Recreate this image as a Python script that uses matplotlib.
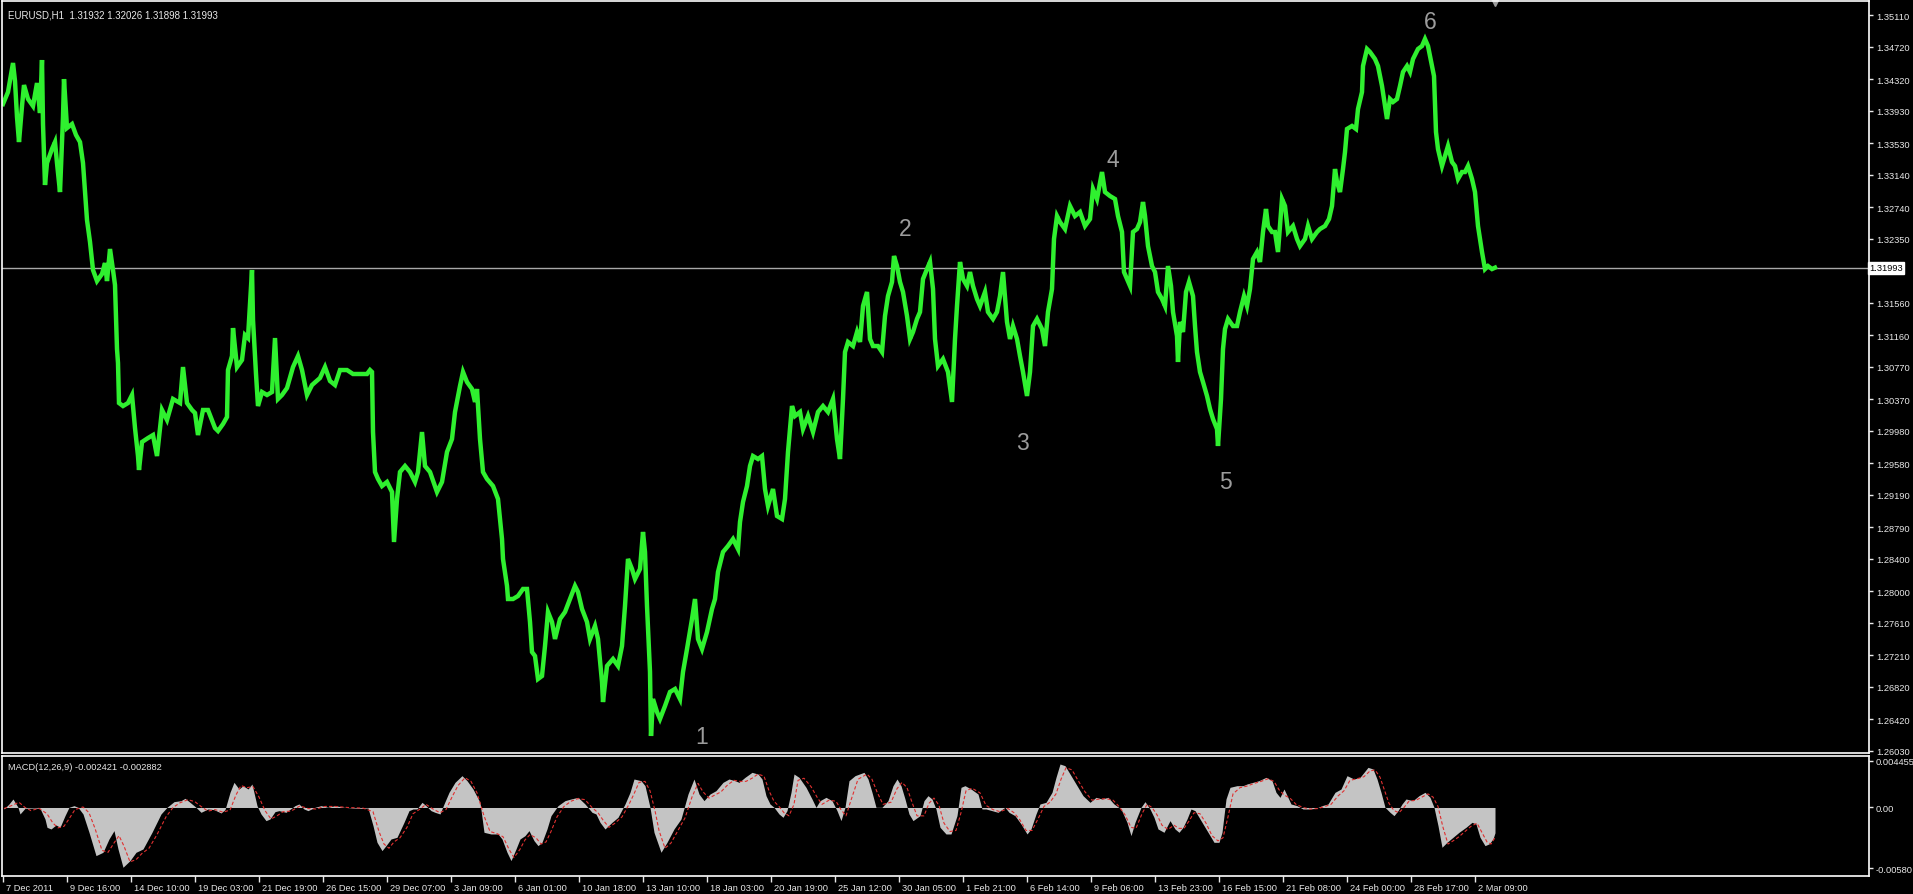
import matplotlib
matplotlib.use('Agg')
import matplotlib.pyplot as plt
import matplotlib.transforms as mtransforms
import numpy as np

plt.rcParams['font.family'] = ['Liberation Sans', 'DejaVu Sans']

# EURUSD H1, price path (bar index, price)
price_path = [
    (0, 1.34012), (5, 1.34160), (10, 1.34518), (12, 1.34296), (14, 1.33852), (16, 1.33543), (19, 1.33987),
    (21, 1.34246), (25, 1.34074), (30, 1.33987), (34, 1.34271), (37, 1.33901), (39, 1.34555), (40, 1.33765),
    (42, 1.33013), (44, 1.33284), (49, 1.33457), (52, 1.33543), (54, 1.33284), (57, 1.32926), (60, 1.33852),
    (61, 1.34320), (64, 1.33716), (69, 1.33765), (73, 1.33630), (77, 1.33543), (80, 1.33284), (82, 1.32926),
    (84, 1.32581), (87, 1.32310), (90, 1.31964), (94, 1.31828), (99, 1.31915), (102, 1.32050), (104, 1.31828),
    (107, 1.32223), (110, 1.31964), (112, 1.31779), (114, 1.30989), (115, 1.30817), (116, 1.30323),
    (120, 1.30286), (125, 1.30323), (129, 1.30422), (132, 1.30015), (135, 1.29669), (136, 1.29497),
    (139, 1.29842), (145, 1.29891), (150, 1.29928), (154, 1.29669), (159, 1.30237), (164, 1.30114),
    (170, 1.30373), (177, 1.30323), (180, 1.30767), (184, 1.30323), (189, 1.30237), (192, 1.30200),
    (195, 1.29928), (200, 1.30237), (205, 1.30237), (212, 1.30015), (215, 1.29978), (220, 1.30064),
    (224, 1.30151), (225, 1.30730), (229, 1.30903), (230, 1.31248), (234, 1.30767), (239, 1.30854),
    (242, 1.31162), (245, 1.31125), (249, 1.31964), (250, 1.31347), (253, 1.30681), (255, 1.30286),
    (259, 1.30459), (264, 1.30422), (269, 1.30459), (272, 1.31125), (275, 1.30373), (279, 1.30422),
    (284, 1.30508), (290, 1.30767), (295, 1.30903), (299, 1.30730), (304, 1.30422), (309, 1.30545),
    (317, 1.30632), (322, 1.30767), (327, 1.30595), (332, 1.30545), (337, 1.30730), (344, 1.30730),
    (350, 1.30681), (357, 1.30681), (364, 1.30681), (367, 1.30730), (369, 1.30706),
    (370, 1.29965), (372, 1.29472), (375, 1.29386), (379, 1.29299), (384, 1.29349), (389, 1.29225),
    (391, 1.28608), (394, 1.29139), (397, 1.29472), (402, 1.29546), (407, 1.29472), (412, 1.29349),
    (415, 1.29472), (419, 1.29965), (422, 1.29546), (427, 1.29472), (434, 1.29225), (439, 1.29349),
    (444, 1.29719), (449, 1.29879), (452, 1.30212), (457, 1.30533), (460, 1.30706), (464, 1.30582),
    (469, 1.30496), (472, 1.30336), (474, 1.30496), (477, 1.29879), (480, 1.29472), (484, 1.29386),
    (490, 1.29299), (495, 1.29139), (499, 1.28645), (500, 1.28399), (504, 1.28066), (505, 1.27905),
    (510, 1.27905), (515, 1.27942), (520, 1.28029), (524, 1.28029), (527, 1.27621), (529, 1.27251),
    (532, 1.27202), (535, 1.26918), (539, 1.26955), (542, 1.27325), (545, 1.27745), (549, 1.27621),
    (552, 1.27412), (557, 1.27658), (562, 1.27745), (567, 1.27905), (572, 1.28066), (575, 1.27992),
    (579, 1.27782), (584, 1.27621), (587, 1.27412), (592, 1.27572), (595, 1.27412), (599, 1.26881),
    (600, 1.26634), (604, 1.27079), (610, 1.27165), (615, 1.27079), (619, 1.27325), (622, 1.27819),
    (625, 1.28399), (629, 1.28275), (632, 1.28152), (637, 1.28275), (640, 1.28732), (642, 1.28485),
    (644, 1.27819), (647, 1.27005), (648, 1.26215), (650, 1.26671), (654, 1.26511), (657, 1.26425),
    (662, 1.26585), (667, 1.26758), (672, 1.26795), (677, 1.26671), (680, 1.27005), (684, 1.27288),
    (689, 1.27658), (692, 1.27905), (695, 1.27412), (699, 1.27288), (704, 1.27498), (709, 1.27782),
    (712, 1.27905), (715, 1.28238), (720, 1.28485), (725, 1.28559), (730, 1.28645), (735, 1.28522),
    (737, 1.28855), (740, 1.29102), (744, 1.29299), (747, 1.29546), (750, 1.29669), (755, 1.29632),
    (759, 1.29669), (762, 1.29262), (765, 1.29053), (770, 1.29262), (774, 1.28929), (779, 1.28892),
    (782, 1.29139), (785, 1.29719), (789, 1.30286), (792, 1.30163), (797, 1.30212), (800, 1.30002),
    (805, 1.30163), (810, 1.29965), (815, 1.30212), (820, 1.30286), (825, 1.30212), (830, 1.30373),
    (834, 1.29879), (837, 1.29632), (840, 1.30373), (842, 1.30952), (845, 1.31076), (850, 1.31026),
    (854, 1.31199), (857, 1.31076), (860, 1.31520), (864, 1.31693), (867, 1.31113), (870, 1.31026),
    (875, 1.31026), (879, 1.30952), (882, 1.31397), (885, 1.31643), (889, 1.31816), (891, 1.32137),
    (894, 1.32013), (897, 1.31816), (900, 1.31693), (904, 1.31397), (907, 1.31113), (910, 1.31199),
    (914, 1.31360), (917, 1.31446), (920, 1.31853), (924, 1.31976), (927, 1.32063), (930, 1.31730),
    (932, 1.31113), (935, 1.30780), (940, 1.30866), (945, 1.30706), (949, 1.30336), (952, 1.31113),
    (954, 1.31520), (957, 1.32063), (960, 1.31853), (964, 1.31767), (967, 1.31939), (970, 1.31767),
    (974, 1.31606), (977, 1.31520), (982, 1.31693), (985, 1.31446), (990, 1.31360), (994, 1.31446),
    (997, 1.31643), (1000, 1.31939), (1004, 1.31323), (1007, 1.31113), (1010, 1.31273), (1014, 1.31113),
    (1017, 1.30903), (1020, 1.30706), (1024, 1.30410), (1027, 1.30706), (1030, 1.31273), (1034, 1.31360),
    (1039, 1.31236), (1042, 1.31026), (1045, 1.31446), (1049, 1.31730), (1051, 1.32347), (1054, 1.32630),
    (1057, 1.32556), (1062, 1.32470), (1067, 1.32754), (1072, 1.32630), (1077, 1.32680), (1082, 1.32507),
    (1087, 1.32593), (1090, 1.32963), (1094, 1.32840), (1099, 1.33173), (1102, 1.32926), (1107, 1.32877),
    (1112, 1.32840), (1115, 1.32630), (1119, 1.32433), (1121, 1.31939), (1124, 1.31853), (1127, 1.31767),
    (1130, 1.32433), (1134, 1.32470), (1137, 1.32556), (1140, 1.32803), (1142, 1.32630), (1145, 1.32260),
    (1149, 1.32013), (1152, 1.31939), (1155, 1.31693), (1159, 1.31606), (1162, 1.31520), (1165, 1.32013),
    (1168, 1.31767), (1170, 1.31446), (1174, 1.31150), (1175, 1.30829), (1177, 1.31323), (1180, 1.31199),
    (1183, 1.31693), (1186, 1.31816), (1190, 1.31643), (1192, 1.31273), (1194, 1.30952), (1197, 1.30706),
    (1200, 1.30582), (1204, 1.30410), (1207, 1.30249), (1210, 1.30126), (1214, 1.30002), (1215, 1.29793),
    (1218, 1.30373), (1220, 1.30989), (1222, 1.31236), (1225, 1.31360), (1230, 1.31273), (1234, 1.31273),
    (1237, 1.31446), (1241, 1.31643), (1244, 1.31520), (1247, 1.31730), (1250, 1.32100), (1254, 1.32186),
    (1257, 1.32063), (1260, 1.32433), (1263, 1.32717), (1265, 1.32507), (1269, 1.32433), (1272, 1.32433),
    (1275, 1.32186), (1279, 1.32840), (1282, 1.32754), (1285, 1.32433), (1290, 1.32507), (1294, 1.32347),
    (1297, 1.32260), (1302, 1.32347), (1305, 1.32507), (1309, 1.32347), (1314, 1.32433), (1317, 1.32470),
    (1322, 1.32507), (1326, 1.32593), (1329, 1.32754), (1332, 1.33210), (1334, 1.33050), (1337, 1.32926),
    (1340, 1.33210), (1342, 1.33420), (1344, 1.33704), (1349, 1.33741), (1353, 1.33704), (1355, 1.33950),
    (1359, 1.34160), (1360, 1.34481), (1364, 1.34691), (1367, 1.34654), (1372, 1.34567), (1375, 1.34481),
    (1379, 1.34234), (1382, 1.33987), (1384, 1.33827), (1387, 1.34074), (1390, 1.34037), (1394, 1.34074),
    (1397, 1.34234), (1400, 1.34407), (1404, 1.34481), (1407, 1.34407), (1410, 1.34567), (1415, 1.34691),
    (1419, 1.34728), (1422, 1.34814), (1425, 1.34728), (1429, 1.34481), (1431, 1.34357), (1433, 1.33667),
    (1435, 1.33457), (1439, 1.33247), (1442, 1.33370), (1445, 1.33494), (1449, 1.33296), (1452, 1.33247),
    (1455, 1.33087), (1459, 1.33173), (1462, 1.33173), (1465, 1.33247), (1469, 1.33087), (1472, 1.32926),
    (1475, 1.32507), (1479, 1.32186), (1482, 1.31976), (1485, 1.32013), (1489, 1.31976), (1492, 1.31993),
]

# MACD(12,26,9) main line (histogram) and signal line
macd_path = [
    (1, -0.000144), (6, 0.000335), (10, 0.000813), (15, 0.000016), (17, -0.000622), (22, -0.000080),
    (31, -0.000048), (37, -0.000080), (42, -0.001101), (44, -0.001898), (48, -0.002058), (53, -0.001675),
    (57, -0.001898), (62, -0.000782), (66, 0.000016), (71, 0.000175), (75, 0.000016), (80, -0.000622),
    (86, -0.002377), (93, -0.004610), (100, -0.004291), (106, -0.003015), (111, -0.002217), (115, -0.003972),
    (120, -0.005726), (127, -0.005088), (133, -0.004291), (140, -0.003972), (149, -0.002377), (158, -0.000622),
    (164, 0.000016), (171, 0.000558), (178, 0.000654), (182, 0.000877), (187, 0.000494), (193, 0.000016),
    (198, -0.000463), (205, -0.000144), (211, -0.000207), (218, -0.000526), (222, -0.000207), (227, 0.001451),
    (231, 0.002408), (236, 0.001770), (240, 0.002089), (245, 0.001770), (249, 0.002249), (254, 0.000175),
    (258, -0.000622), (263, -0.001260), (267, -0.001101), (272, -0.000399), (276, -0.000303), (283, -0.000463),
    (292, 0.000175), (296, 0.000335), (301, -0.000144), (305, -0.000303), (312, 0.000016), (318, 0.000175),
    (325, 0.000016), (332, 0.000175), (341, 0.000016), (350, -0.000048), (359, -0.000080), (365, -0.000048),
    (370, -0.001739), (374, -0.003334), (379, -0.004131), (383, -0.003653), (388, -0.003015), (394, -0.002855),
    (401, -0.001420), (406, -0.000303), (410, -0.000144), (414, -0.000144), (419, 0.000494), (423, 0.000175),
    (428, -0.000303), (432, -0.000463), (437, -0.000622), (441, 0.000335), (446, 0.001451), (452, 0.002408),
    (459, 0.003046), (464, 0.002568), (470, 0.001770), (477, 0.000494), (481, -0.002377), (488, -0.002536),
    (495, -0.002536), (499, -0.003015), (504, -0.004291), (508, -0.005088), (513, -0.003972), (517, -0.003015),
    (522, -0.002696), (526, -0.002217), (531, -0.003174), (535, -0.003653), (539, -0.003334), (544, -0.002058),
    (548, -0.000782), (555, 0.000175), (562, 0.000654), (568, 0.000813), (575, 0.000973), (582, 0.000335),
    (589, -0.000463), (593, -0.000622), (597, -0.001420), (602, -0.002058), (609, -0.001420), (615, -0.000941),
    (622, 0.000335), (627, 0.001451), (631, 0.002727), (638, 0.002568), (642, 0.002089), (647, 0.000016),
    (651, -0.002377), (658, -0.004291), (664, -0.003334), (671, -0.002058), (678, -0.001101), (685, 0.001292),
    (691, 0.002727), (696, 0.001292), (701, 0.000654), (707, 0.001292), (713, 0.001611), (720, 0.002408),
    (726, 0.002727), (732, 0.002568), (736, 0.002408), (742, 0.002887), (749, 0.003365), (755, 0.003206),
    (759, 0.002727), (763, 0.001132), (767, 0.000335), (771, 0.000016), (776, -0.000622), (780, -0.000941),
    (784, -0.000303), (788, 0.001451), (791, 0.003206), (796, 0.002887), (803, 0.001930), (809, 0.000813),
    (813, 0.000016), (817, 0.000654), (823, 0.000973), (829, 0.000654), (834, -0.000303), (838, -0.001260),
    (842, 0.000016), (846, 0.002568), (852, 0.003046), (861, 0.003365), (865, 0.002727), (869, 0.001451),
    (873, 0.000016), (879, 0.000016), (885, 0.000654), (890, 0.002089), (894, 0.002727), (898, 0.002089),
    (902, 0.000813), (906, -0.000622), (910, -0.001260), (917, -0.000782), (921, 0.000654), (925, 0.001132),
    (929, 0.000813), (933, -0.000144), (937, -0.001898), (943, -0.002536), (948, -0.002536), (954, -0.000782),
    (958, 0.001930), (962, 0.002089), (968, 0.001770), (975, 0.001292), (979, -0.000144), (983, -0.000144),
    (989, -0.000303), (995, -0.000463), (1002, 0.000016), (1006, -0.000463), (1012, -0.000782),
    (1018, -0.001579), (1024, -0.002536), (1028, -0.002058), (1033, -0.000622), (1037, 0.000335),
    (1043, 0.000494), (1049, 0.001451), (1053, 0.002887), (1057, 0.004163), (1062, 0.004003), (1068, 0.003046),
    (1074, 0.002089), (1080, 0.001132), (1087, 0.000494), (1093, 0.000973), (1099, 0.000813), (1105, 0.000973),
    (1111, 0.000335), (1118, -0.000144), (1124, -0.001420), (1128, -0.002696), (1132, -0.001420),
    (1138, 0.000016), (1142, 0.000558), (1147, -0.000144), (1151, -0.000941), (1155, -0.002058),
    (1161, -0.002377), (1167, -0.001260), (1172, -0.002058), (1176, -0.002377), (1180, -0.001898),
    (1184, -0.001101), (1188, -0.000144), (1192, -0.000303), (1198, -0.001260), (1205, -0.002377),
    (1211, -0.003334), (1216, -0.003334), (1219, -0.002377), (1223, 0.000813), (1227, 0.001930),
    (1234, 0.002089), (1240, 0.002089), (1244, 0.002249), (1250, 0.002408), (1256, 0.002568), (1263, 0.002887),
    (1269, 0.002568), (1273, 0.001451), (1277, 0.000973), (1281, 0.001770), (1288, 0.000335), (1294, 0.000175),
    (1300, -0.000144), (1306, -0.000144), (1313, -0.000080), (1319, 0.000175), (1325, 0.000335),
    (1332, 0.001451), (1338, 0.001770), (1344, 0.003046), (1351, 0.002727), (1357, 0.002887), (1361, 0.003365),
    (1365, 0.003844), (1370, 0.003684), (1374, 0.002727), (1378, 0.001451), (1382, 0.000016), (1387, -0.000463),
    (1391, -0.000782), (1395, -0.000303), (1399, 0.000335), (1403, 0.000813), (1410, 0.000654), (1416, 0.001132),
    (1422, 0.001451), (1427, 0.000973), (1431, 0.000016), (1435, -0.001739), (1439, -0.003812),
    (1444, -0.003334), (1450, -0.002855), (1456, -0.002377), (1463, -0.001898), (1469, -0.001420),
    (1473, -0.001579), (1477, -0.002855), (1482, -0.003653), (1486, -0.003493), (1490, -0.003015),
    (1492, -0.002421),
]

signal_path = [
    (1, -0.000100), (9, 0.000200), (16, 0.000500), (22, 0.000000), (28, -0.000300), (36, -0.000080),
    (44, -0.000600), (50, -0.001500), (55, -0.001950), (61, -0.001800), (66, -0.001100), (72, -0.000200),
    (80, 0.000050), (86, -0.000500), (92, -0.002000), (99, -0.004100), (105, -0.004300), (111, -0.003400),
    (116, -0.002700), (121, -0.003700), (127, -0.005200), (133, -0.005000), (139, -0.004400), (146, -0.003900),
    (154, -0.002600), (163, -0.000900), (170, 0.000000), (177, 0.000450), (185, 0.000750), (192, 0.000550),
    (198, 0.000100), (205, -0.000350), (212, -0.000200), (220, -0.000450), (227, -0.000250), (233, 0.001200),
    (238, 0.002100), (244, 0.001900), (250, 0.002000), (256, 0.001000), (262, -0.000300), (268, -0.001100),
    (274, -0.000800), (280, -0.000400), (288, -0.000350), (297, 0.000150), (305, -0.000100), (313, -0.000150),
    (322, 0.000100), (332, 0.000100), (345, 0.000000), (360, -0.000060), (370, -0.000400), (376, -0.002300),
    (381, -0.003500), (386, -0.003900), (391, -0.003300), (397, -0.002900), (404, -0.001900), (410, -0.000600),
    (417, -0.000150), (423, 0.000300), (430, -0.000150), (437, -0.000500), (443, -0.000200), (449, 0.001000),
    (455, 0.002100), (462, 0.002850), (468, 0.002500), (474, 0.001400), (481, -0.000800), (487, -0.002300),
    (494, -0.002500), (500, -0.002800), (506, -0.004000), (511, -0.004800), (517, -0.004000), (522, -0.003100),
    (527, -0.002600), (533, -0.002900), (538, -0.003500), (543, -0.003300), (548, -0.002300), (554, -0.000900),
    (561, 0.000100), (568, 0.000600), (575, 0.000850), (582, 0.000750), (589, 0.000000), (595, -0.000500),
    (600, -0.001200), (606, -0.001900), (612, -0.001500), (619, -0.000900), (626, 0.000300), (631, 0.001300),
    (636, 0.002400), (642, 0.002500), (647, 0.001600), (652, -0.000300), (656, -0.002200), (662, -0.003900),
    (668, -0.003400), (675, -0.002200), (682, -0.001000), (689, 0.001000), (695, 0.002300), (700, 0.001500),
    (706, 0.000900), (712, 0.001200), (718, 0.001500), (725, 0.002200), (731, 0.002600), (737, 0.002500),
    (743, 0.002500), (749, 0.002800), (755, 0.003200), (761, 0.003000), (766, 0.001600), (771, 0.000600),
    (776, 0.000100), (781, -0.000500), (786, -0.000800), (791, 0.000300), (795, 0.002600), (801, 0.002800),
    (808, 0.002000), (814, 0.001000), (819, 0.000300), (826, 0.000700), (833, 0.000600), (838, -0.000200),
    (843, -0.000800), (848, 0.000700), (855, 0.002700), (864, 0.003200), (869, 0.002700), (874, 0.001500),
    (880, 0.000300), (888, 0.000500), (894, 0.001800), (899, 0.002400), (904, 0.001900), (909, 0.000500),
    (914, -0.000800), (921, -0.000800), (926, 0.000400), (931, 0.000900), (936, 0.000200), (941, -0.001500),
    (947, -0.002300), (953, -0.002200), (958, -0.000500), (963, 0.001600), (969, 0.001850), (977, 0.001400),
    (983, 0.000200), (990, -0.000200), (997, -0.000400), (1005, -0.000100), (1011, -0.000500),
    (1017, -0.001200), (1023, -0.002200), (1029, -0.002200), (1035, -0.001100), (1041, 0.000100),
    (1047, 0.000500), (1053, 0.001300), (1058, 0.002700), (1063, 0.003800), (1069, 0.003600), (1075, 0.002600),
    (1082, 0.001500), (1089, 0.000700), (1096, 0.000800), (1103, 0.000850), (1110, 0.000700), (1116, 0.000100),
    (1122, -0.000700), (1128, -0.001900), (1133, -0.002000), (1139, -0.000600), (1144, 0.000300),
    (1149, 0.000000), (1154, -0.000700), (1159, -0.001700), (1165, -0.002100), (1171, -0.001700),
    (1176, -0.002000), (1181, -0.002000), (1186, -0.001300), (1191, -0.000500), (1197, -0.000600),
    (1203, -0.001500), (1209, -0.002700), (1215, -0.003200), (1220, -0.002900), (1225, -0.000900),
    (1230, 0.001300), (1237, 0.001900), (1244, 0.002050), (1251, 0.002300), (1258, 0.002500), (1265, 0.002750),
    (1271, 0.002500), (1276, 0.001700), (1281, 0.001200), (1287, 0.000900), (1293, 0.000300), (1300, 0.000000),
    (1307, -0.000150), (1315, -0.000100), (1322, 0.000100), (1328, 0.000300), (1335, 0.001100),
    (1341, 0.001600), (1347, 0.002600), (1354, 0.002750), (1361, 0.002950), (1367, 0.003500), (1372, 0.003600),
    (1377, 0.002900), (1381, 0.001800), (1386, 0.000400), (1391, -0.000300), (1396, -0.000500),
    (1401, 0.000000), (1406, 0.000600), (1413, 0.000700), (1419, 0.001000), (1425, 0.001300), (1430, 0.001000),
    (1435, 0.000100), (1440, -0.001900), (1445, -0.003500), (1450, -0.003200), (1456, -0.002800),
    (1462, -0.002300), (1468, -0.001800), (1474, -0.001500), (1479, -0.002400), (1484, -0.003300),
    (1488, -0.003500), (1492, -0.002882),
]

price_ticks = [1.35110, 1.34720, 1.34320, 1.33930, 1.33530, 1.33140, 1.32740, 1.32350, 1.31560, 1.31160,
               1.30770, 1.30370, 1.29980, 1.29580, 1.29190, 1.28790, 1.28400, 1.28000, 1.27610, 1.27210,
               1.26820, 1.26420, 1.26030]
last_price = 1.31993

date_labels = ['7 Dec 2011', '9 Dec 16:00', '14 Dec 10:00', '19 Dec 03:00', '21 Dec 19:00', '26 Dec 15:00',
               '29 Dec 07:00', '3 Jan 09:00', '6 Jan 01:00', '10 Jan 18:00', '13 Jan 10:00', '18 Jan 03:00',
               '20 Jan 19:00', '25 Jan 12:00', '30 Jan 05:00', '1 Feb 21:00', '6 Feb 14:00', '9 Feb 06:00',
               '13 Feb 23:00', '16 Feb 15:00', '21 Feb 08:00', '24 Feb 00:00', '28 Feb 17:00', '2 Mar 09:00']
bars_per_label = 64

wave_names = ['1', '2', '3', '4', '5', '6']
wave_bar = [699, 902, 1019, 1110, 1222, 1427]
wave_price = [1.26203, 1.32482, 1.29842, 1.33333, 1.29349, 1.35024]

W, H = 1913, 895
fg = '#e8e8e8'

bars, prices = zip(*price_path)
m_bar, m_val = zip(*macd_path)
s_bar, s_val = zip(*signal_path)

fig = plt.figure(figsize=(W / 100, H / 100), dpi=100, facecolor='black')
ax = fig.add_axes([2 / W, (H - 754) / H, 1867 / W, 752 / H], facecolor='black')
ax2 = fig.add_axes([2 / W, (H - 877) / H, 1867 / W, 120 / H], facecolor='black')

for a in (ax, ax2):
    a.set_xlim(-1, 1866)
    for s in a.spines.values():
        s.set_color('white')
        s.set_linewidth(1.2)
    a.yaxis.tick_right()
    a.tick_params(axis='y', colors=fg, labelcolor=fg, labelsize=6.7, length=3, width=1, pad=2)

# price panel
ax.set_ylim(1.26005, 1.35283)
ax.axhline(last_price, color='#a8a8a8', lw=1)
ax.plot(bars, prices, color='#2ff02f', lw=3.2, solid_joinstyle='miter')
ax.set_yticks(price_ticks)
ax.set_yticklabels(['%.5f' % v for v in price_ticks])
ax.set_xticks([])
ax.text(1.0, last_price, '%.5f' % last_price, transform=ax.get_yaxis_transform(),
        ha='left', va='center', fontsize=6.7, color='black',
        bbox=dict(boxstyle='square,pad=0.15', fc='white', ec='white'))
ax.text(5, 1.35110 + 0.00010, 'EURUSD,H1  1.31932 1.32026 1.31898 1.31993',
        color=fg, fontsize=7, ha='left', va='center')
ax.plot([bars[-1]], [1.35283], marker='v', color='#9c9c9c', ms=7, clip_on=False)
for name, bx, py in zip(wave_names, wave_bar, wave_price):
    ax.text(bx, py, name, color='#9c9c9c', fontsize=16.5, ha='center', va='center')

# MACD panel
ax2.set_ylim(-0.00656, 0.00493)
ax2.fill_between(m_bar, m_val, 0, color='#c4c4c4', lw=0)
ax2.plot(s_bar, s_val, color='#e03030', lw=0.8, ls=(0, (3, 2)))
ax2.set_yticks([0.004455, 0.0, -0.0058])
ax2.set_yticklabels(['0.004455', '0.00', '-0.00580'])
ax2.text(5, 0.0039, 'MACD(12,26,9) -0.002421 -0.002882', color=fg, fontsize=6.7, ha='left', va='center')

ticks = [i * bars_per_label for i in range(len(date_labels))]
ax2.set_xticks(ticks)
ax2.set_xticklabels(date_labels)
ax2.tick_params(axis='x', colors=fg, labelcolor=fg, labelsize=6.7, length=4, width=1, pad=1)
shift = mtransforms.ScaledTranslation(3 / 100, 0, fig.dpi_scale_trans)
for lbl in ax2.get_xticklabels():
    lbl.set_ha('left')
    lbl.set_transform(lbl.get_transform() + shift)

fig.savefig('out.png', dpi=100, facecolor='black')
